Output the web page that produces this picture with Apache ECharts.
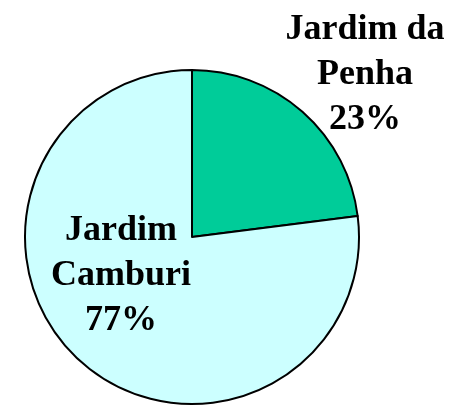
<!DOCTYPE html>
<html>
<head>
<meta charset="utf-8">
<script src="https://cdn.jsdelivr.net/npm/echarts@6/dist/echarts.min.js"></script>
<style>
  html, body { margin: 0; padding: 0; background: #fff; }
  #chart { width: 449px; height: 406px; }
</style>
</head>
<body>
<div id="chart"></div>
<script>
// bairros e percentuais
var bairros = ['Jardim da Penha', 'Jardim Camburi'];
var valores = [23, 77];
var rotulos = ['Jardim da\nPenha\n23%', 'Jardim\nCamburi\n77%'];
var cores = ['#00CC99', '#CCFFFF'];

var chart = echarts.init(document.getElementById('chart'));

var dados = [];
for (var i = 0; i < bairros.length; i++) {
    dados.push({
        name: bairros[i],
        value: valores[i],
        itemStyle: { color: cores[i] },
        label: { formatter: rotulos[i] }
    });
}

// where each label sits (label box centre)
var posRotulo = [[365, 75], [121, 276]];

var option = {
    animation: false,
    series: [
        {
            type: 'pie',
            center: [192, 237],
            radius: 167,
            startAngle: 90,
            clockwise: true,
            data: dados,
            itemStyle: {
                borderColor: '#000',
                borderWidth: 2
            },
            label: {
                show: true,
                position: 'inside',
                fontFamily: '"Liberation Serif", "Times New Roman", serif',
                fontWeight: 'bold',
                fontSize: 36,
                lineHeight: 45,
                color: '#000',
                align: 'center'
            },
            labelLine: { show: false },
            labelLayout: function (params) {
                var p = posRotulo[params.dataIndex];
                return { x: p[0], y: p[1], align: 'center', verticalAlign: 'middle' };
            }
        }
    ]
};

chart.setOption(option);
</script>
</body>
</html>
